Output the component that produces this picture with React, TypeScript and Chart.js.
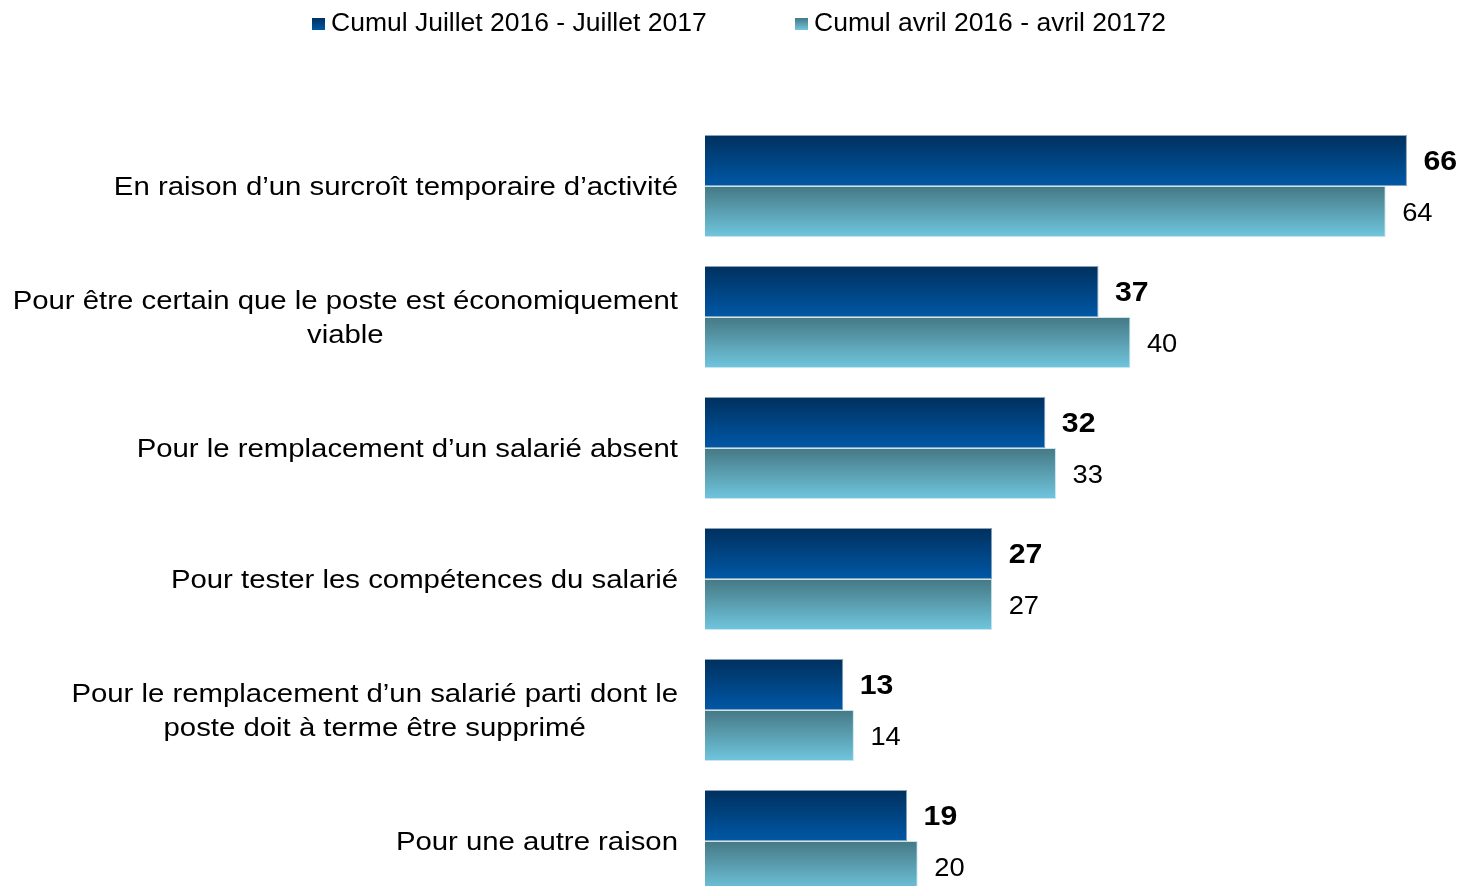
import React, { useEffect, useRef } from "react";
import { Chart, registerables } from "chart.js";
Chart.register(...registerables);

const categories: string[][] = [
  ["En raison d’un surcroît temporaire d’activité"],
  ["Pour être certain que le poste est économiquement", "viable"],
  ["Pour le remplacement d’un salarié absent"],
  ["Pour tester les compétences du salarié"],
  ["Pour le remplacement d’un salarié parti dont le", "poste doit à terme être supprimé"],
  ["Pour une autre raison"],
];
const seriesLabels = ["Cumul Juillet 2016 - Juillet 2017", "Cumul avril 2016 - avril 20172"];
const juillet = [66, 37, 32, 27, 13, 19];
const avril = [64, 40, 33, 27, 14, 20];

const FONT = '"Liberation Sans", Arial, sans-serif';
const gradStops = [
  ["#00305e", "#0058a6"],
  ["#457884", "#70c6de"],
];
const CAT_PCT = 0.78;

function barGradient(ctx: any) {
  const chart = ctx.chart;
  const area = chart.chartArea;
  const ds = ctx.datasetIndex;
  if (!area || ctx.type !== "data") return gradStops[ds][1];
  const y = chart.scales.y;
  const center = y.getPixelForValue(ctx.dataIndex);
  const cat = (area.bottom - area.top) / categories.length;
  const h = (cat * CAT_PCT) / 2;
  const top = center - h + ds * h;
  const g = chart.ctx.createLinearGradient(0, top, 0, top + h);
  g.addColorStop(0, gradStops[ds][0]);
  g.addColorStop(1, gradStops[ds][1]);
  return g;
}

function drawStretched(ctx: CanvasRenderingContext2D, text: string, x: number, y: number, sx: number) {
  ctx.save();
  ctx.translate(x, y);
  ctx.scale(sx, 1);
  ctx.fillText(text, 0, 0);
  ctx.restore();
}

const textPlugin = {
  id: "texts",
  afterDraw(chart: any) {
    const ctx = chart.ctx as CanvasRenderingContext2D;
    const y = chart.scales.y;
    ctx.save();
    ctx.fillStyle = "#000";
    // category labels
    const SX = 1.107;
    ctx.font = `26.5px ${FONT}`;
    ctx.textAlign = "center";
    ctx.textBaseline = "middle";
    const lh = 34;
    categories.forEach((lines, i) => {
      const cy = y.getPixelForValue(i) + 2;
      const maxW = Math.max(...lines.map((l) => ctx.measureText(l).width)) * SX;
      const cx = 678 - maxW / 2;
      const y0 = cy - ((lines.length - 1) * lh) / 2;
      lines.forEach((l, k) => drawStretched(ctx, l, cx, y0 + k * lh, SX));
    });
    // data labels
    ctx.textAlign = "left";
    chart.data.datasets.forEach((dset: any, di: number) => {
      const meta = chart.getDatasetMeta(di);
      ctx.font = di === 0 ? `bold 28px ${FONT}` : `26.5px ${FONT}`;
      const sx = di === 0 ? 1.08 : 1.03;
      meta.data.forEach((el: any, i: number) => {
        drawStretched(ctx, String(dset.data[i]), el.x + 16.5, el.y + 2, sx);
      });
    });
    // legend
    const legendBoxes = [312, 795];
    ctx.font = `26.5px ${FONT}`;
    seriesLabels.forEach((lab, di) => {
      const bx = legendBoxes[di];
      const g = ctx.createLinearGradient(0, 18, 0, 30);
      g.addColorStop(0, gradStops[di][0]);
      g.addColorStop(1, gradStops[di][1]);
      ctx.fillStyle = g;
      ctx.fillRect(bx, 18, 13, 12);
      ctx.fillStyle = "#000";
      drawStretched(ctx, lab, bx + 19, 24, 1.0);
    });
    ctx.restore();
  },
};

export default function App() {
  const ref = useRef<HTMLCanvasElement>(null);
  useEffect(() => {
    if (!ref.current) return;
    const chart = new Chart(ref.current, {
      type: "bar",
      data: {
        labels: categories.map((c) => c.join(" ")),
        datasets: [
          {
            label: seriesLabels[0],
            data: juillet,
            backgroundColor: barGradient,
            borderColor: "#8aa2b8",
            borderWidth: 1,
            categoryPercentage: CAT_PCT,
            barPercentage: 1,
          },
          {
            label: seriesLabels[1],
            data: avril,
            backgroundColor: barGradient,
            borderColor: "#c8e6f0",
            borderWidth: 1,
            categoryPercentage: CAT_PCT,
            barPercentage: 1,
          },
        ],
      },
      options: {
        indexAxis: "y",
        animation: false,
        responsive: false,
        layout: { padding: { top: 120.5, bottom: 0.5, right: 12.5, left: 0 } },
        plugins: { legend: { display: false }, tooltip: { enabled: false } },
        scales: {
          x: { display: false, min: 0, max: 70 },
          y: {
            display: true,
            grid: { display: false },
            border: { display: false },
            ticks: { display: false },
            afterFit: (s: any) => {
              s.width = 705;
            },
          },
        },
      },
      plugins: [textPlugin],
    });
    return () => chart.destroy();
  }, []);
  return (
    <div style={{ position: "absolute", left: 0, top: 0, width: 1462, height: 886, overflow: "hidden", background: "#fff" }}>
      <canvas ref={ref} width={1462} height={907} style={{ width: 1462, height: 907, display: "block" }} />
    </div>
  );
}
